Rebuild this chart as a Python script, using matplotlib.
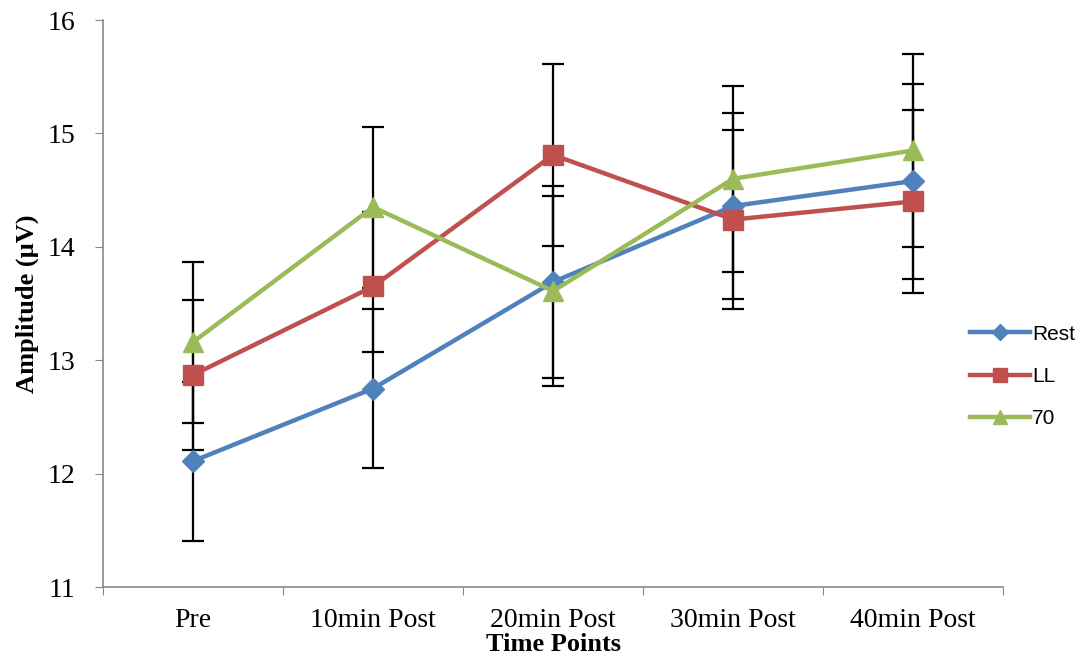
import matplotlib
matplotlib.use('Agg')
import matplotlib.pyplot as plt
import numpy as np

# data
time_points = ['Pre', '10min Post', '20min Post', '30min Post', '40min Post']
rest = [12.11, 12.75, 13.69, 14.36, 14.58]
rest_err = [0.70, 0.70, 0.85, 0.82, 0.86]
ll = [12.87, 13.65, 14.81, 14.24, 14.40]
ll_err_lo = [0.66, 0.58, 0.80, 0.79, 0.81]
ll_err_hi = [0.66, 0.66, 0.80, 0.79, 0.81]   # 10min upper cap hidden under the triangle
seventy = [13.16, 14.35, 13.61, 14.60, 14.85]
seventy_err = [0.71, 0.71, 0.84, 0.82, 0.85]

series = [
    ('Rest', rest, rest_err, '#4F81BD', 'D', 11),
    ('LL', ll, [ll_err_lo, ll_err_hi], '#C0504D', 's', 14),
    ('70', seventy, seventy_err, '#9BBB59', '^', 15),
]

fig = plt.figure(figsize=(10.82, 6.58), dpi=100)
ax = fig.add_axes([0.0952, 0.1079, 0.832, 0.8617])

x = np.arange(len(time_points)) + 0.5

# error bars first so the markers sit on top
for name, vals, errs, col, mk, ms in series:
    ax.errorbar(x, vals, yerr=errs, fmt='none', ecolor='black', elinewidth=1.6,
                capsize=8, capthick=1.6, zorder=1)

for name, vals, errs, col, mk, ms in series:
    ax.plot(x, vals, color=col, linewidth=3.2, marker=mk, markersize=ms,
            label=name, zorder=3)

ax.set_xlim(0, len(time_points))
ax.set_ylim(11, 16)
ax.set_yticks([11, 12, 13, 14, 15, 16])
ax.set_xticks(np.arange(len(time_points) + 1))
ax.set_xticklabels([])
ax.set_xticks(x, minor=True)
ax.set_xticklabels(time_points, minor=True, family='Liberation Serif', fontsize=20)
ax.tick_params(axis='x', which='minor', length=0, pad=15)
ax.tick_params(axis='x', which='major', length=6, color='#888888', direction='out')
ax.tick_params(axis='y', length=6, color='#888888', direction='out', labelsize=20, pad=14)
for lab in ax.get_yticklabels():
    lab.set_family('Liberation Serif')

for s in ['top', 'right']:
    ax.spines[s].set_visible(False)
for s in ['left', 'bottom']:
    ax.spines[s].set_color('#888888')
    ax.spines[s].set_linewidth(1.2)

ax.set_xlabel('Time Points', family='Liberation Serif', fontweight='bold', fontsize=19, labelpad=0)
ax.set_ylabel('Amplitude (µV)', family='Liberation Serif', fontweight='bold', fontsize=19, labelpad=6)

leg = fig.legend(loc='center left', bbox_to_anchor=(0.879, 0.428), frameon=False,
                 prop={'family': 'Liberation Sans', 'size': 15}, handlelength=2.9,
                 handletextpad=0.1, labelspacing=1.12, markerscale=0.7)

fig.savefig('out.png', dpi=100)
